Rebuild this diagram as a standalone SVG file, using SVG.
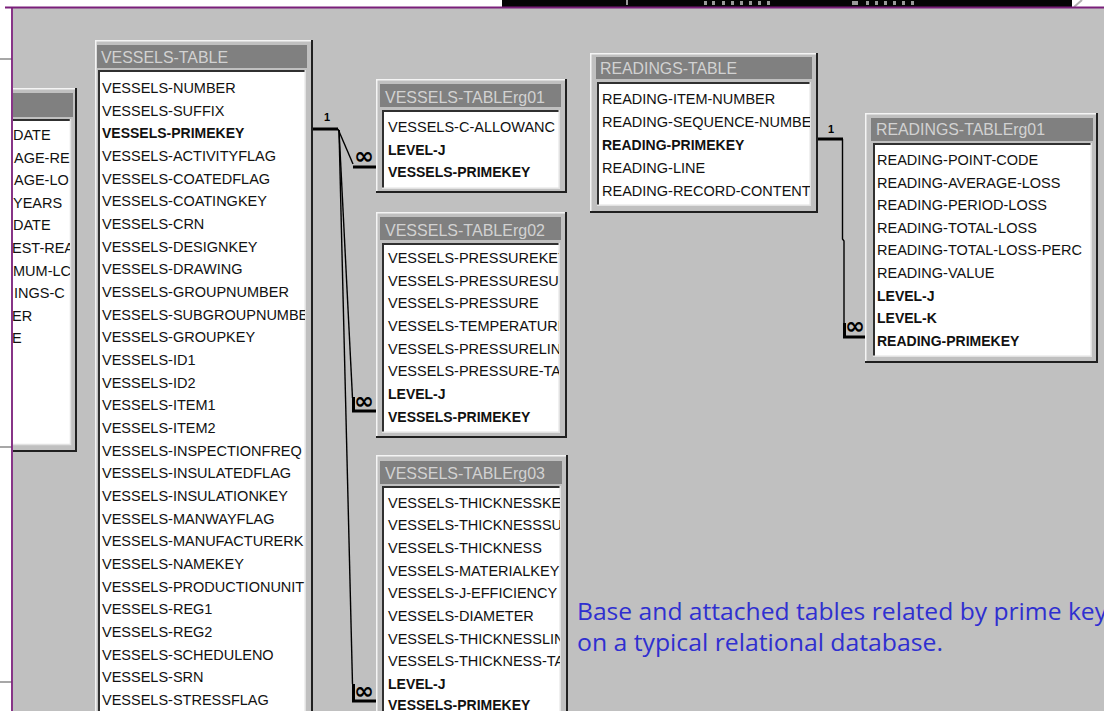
<svg xmlns="http://www.w3.org/2000/svg" width="1104" height="711" viewBox="0 0 1104 711">
<defs>
<style>
.t{font-family:"Liberation Sans",Arial,sans-serif;font-size:14.5px;fill:#111}
.b{font-weight:bold;font-size:14px}
.ttl{font-family:"Liberation Sans",Arial,sans-serif;font-size:16.5px;fill:#d2d2d2}
.frame{fill:#c0c0c0}
.hl{stroke:#f4f4f4;stroke-width:1.5;fill:none}
.sh{stroke:#202020;stroke-width:2;fill:none}
.bar{fill:#808080}
.list{fill:#ffffff}
.lsh{stroke:#303030;stroke-width:2;fill:none}
.lhl{stroke:#e2e2e2;stroke-width:1.5;fill:none}
.thick{stroke:#000;stroke-width:3;fill:none}
.thin{stroke:#000;stroke-width:1.4;fill:none}
.card{font-family:"Liberation Sans",Arial,sans-serif;font-weight:bold;font-size:11px;fill:#000}
.inf{font-family:"DejaVu Sans",sans-serif;font-weight:bold;font-size:24px;fill:#000}
.cap{font-family:"Open Sans","Liberation Sans",sans-serif;font-size:24px;fill:#2f2fd0}
</style>
<clipPath id="cV"><rect x="100" y="72" width="205" height="650"/></clipPath>
<clipPath id="c1"><rect x="384" y="112" width="175" height="76"/></clipPath>
<clipPath id="c2"><rect x="384" y="245" width="175" height="187"/></clipPath>
<clipPath id="c3"><rect x="384" y="488" width="176" height="240"/></clipPath>
<clipPath id="cR"><rect x="599" y="84" width="211" height="121"/></clipPath>
<clipPath id="cR1"><rect x="875" y="145" width="216" height="211"/></clipPath>
<clipPath id="cL"><rect x="13" y="121" width="57" height="323"/></clipPath>
</defs>

<!-- page background -->
<rect x="0" y="0" width="1104" height="711" fill="#ffffff"/>
<rect x="502" y="0" width="570" height="7" fill="#050505"/>
<g fill="#9a9a9a">
<rect x="626" y="0" width="2" height="5"/>
<rect x="704" y="1" width="3" height="4"/><rect x="712" y="1" width="3" height="4"/><rect x="722" y="1" width="3" height="4"/><rect x="731" y="1" width="3" height="4"/><rect x="740" y="1" width="3" height="4"/><rect x="749" y="1" width="3" height="4"/><rect x="758" y="1" width="3" height="4"/><rect x="767" y="1" width="3" height="4"/>
<rect x="852" y="1" width="6" height="4"/><rect x="866" y="1" width="3" height="4"/><rect x="875" y="1" width="3" height="4"/><rect x="884" y="1" width="3" height="4"/><rect x="893" y="1" width="3" height="4"/><rect x="902" y="1" width="3" height="4"/><rect x="911" y="1" width="3" height="4"/>
</g>
<path d="M1074,7 L1082,0" stroke="#b0b0b0" stroke-width="2"/>

<!-- canvas -->
<rect x="13" y="8" width="1091" height="703" fill="#c0c0c0"/>
<g stroke="#8a8a8a" stroke-width="1.5">
<path d="M0,59 H12"/><path d="M0,447 H12"/><path d="M0,682 H12"/>
</g>
<path d="M5,7.5 H1104" stroke="#7a1f7a" stroke-width="1.8"/>
<path d="M12,7 V711" stroke="#7a1f7a" stroke-width="1.8"/>

<!-- left partial table -->
<g id="left-table">
<rect class="frame" x="13" y="88" width="64" height="364"/>
<path class="hl" d="M77,88.75 H13"/>
<path class="sh" d="M13,451 H76 V88"/>
<rect class="bar" x="13" y="93" width="60" height="24"/>
<rect class="list" x="13" y="119" width="58" height="326"/>
<path class="lsh" d="M13,120 H71"/>
<path class="lhl" d="M13,444.5 H70.5 V119"/>
<g clip-path="url(#cL)" class="t">
<text x="13" y="140">DATE</text>
<text x="14" y="162.6">AGE-RE</text>
<text x="14" y="185.2">AGE-LO</text>
<text x="13" y="207.8">YEARS</text>
<text x="13" y="230.4">DATE</text>
<text x="12" y="253">EST-REA</text>
<text x="13" y="275.6">MUM-LC</text>
<text x="14" y="298.2">INGS-C</text>
<text x="12" y="320.8">ER</text>
<text x="12" y="343.4">E</text>
</g>
</g>

<!-- VESSELS-TABLE -->
<g id="vessels-table">
<rect class="frame" x="95" y="40" width="218" height="700"/>
<path class="hl" d="M313,40.75 H95.75 V740"/>
<path class="sh" d="M312,40 V740"/>
<rect class="bar" x="97" y="45" width="210" height="23"/>
<text class="ttl" x="101" y="63" textLength="127" lengthAdjust="spacingAndGlyphs">VESSELS-TABLE</text>
<rect class="list" x="98" y="70" width="208" height="670"/>
<path class="lsh" d="M99,740 V71 H306"/>
<path class="lhl" d="M305.25,70 V740"/>
<g clip-path="url(#cV)" class="t">
<text x="102" y="93">VESSELS-NUMBER</text>
<text x="102" y="115.7">VESSELS-SUFFIX</text>
<text x="102" y="138.3" class="b">VESSELS-PRIMEKEY</text>
<text x="102" y="161">VESSELS-ACTIVITYFLAG</text>
<text x="102" y="183.7">VESSELS-COATEDFLAG</text>
<text x="102" y="206.3">VESSELS-COATINGKEY</text>
<text x="102" y="229">VESSELS-CRN</text>
<text x="102" y="251.7">VESSELS-DESIGNKEY</text>
<text x="102" y="274.3">VESSELS-DRAWING</text>
<text x="102" y="297">VESSELS-GROUPNUMBER</text>
<text x="102" y="319.7">VESSELS-SUBGROUPNUMBE</text>
<text x="102" y="342.3">VESSELS-GROUPKEY</text>
<text x="102" y="365">VESSELS-ID1</text>
<text x="102" y="387.7">VESSELS-ID2</text>
<text x="102" y="410.3">VESSELS-ITEM1</text>
<text x="102" y="433">VESSELS-ITEM2</text>
<text x="102" y="455.7">VESSELS-INSPECTIONFREQ</text>
<text x="102" y="478.3">VESSELS-INSULATEDFLAG</text>
<text x="102" y="501">VESSELS-INSULATIONKEY</text>
<text x="102" y="523.7">VESSELS-MANWAYFLAG</text>
<text x="102" y="546.3">VESSELS-MANUFACTURERK</text>
<text x="102" y="569">VESSELS-NAMEKEY</text>
<text x="102" y="591.7">VESSELS-PRODUCTIONUNIT</text>
<text x="102" y="614.3">VESSELS-REG1</text>
<text x="102" y="637">VESSELS-REG2</text>
<text x="102" y="659.7">VESSELS-SCHEDULENO</text>
<text x="102" y="682.3">VESSELS-SRN</text>
<text x="102" y="705">VESSELS-STRESSFLAG</text>
</g>
</g>

<!-- VESSELS-TABLErg01 -->
<g id="vessels-rg01">
<rect class="frame" x="376" y="79" width="191" height="114"/>
<path class="hl" d="M567,79.75 H376.75 V193"/>
<path class="sh" d="M376,192 H566 V79"/>
<rect class="bar" x="380" y="84" width="181" height="23"/>
<text class="ttl" x="385" y="103" textLength="160" lengthAdjust="spacingAndGlyphs">VESSELS-TABLErg01</text>
<rect class="list" x="382" y="110" width="178" height="79"/>
<path class="lsh" d="M383,189 V111 H560"/>
<path class="lhl" d="M382,188.25 H559.25 V110"/>
<g clip-path="url(#c1)" class="t">
<text x="388" y="132">VESSELS-C-ALLOWANC</text>
<text x="388" y="154.7" class="b">LEVEL-J</text>
<text x="388" y="177.3" class="b">VESSELS-PRIMEKEY</text>
</g>
</g>

<!-- VESSELS-TABLErg02 -->
<g id="vessels-rg02">
<rect class="frame" x="376" y="212" width="191" height="226"/>
<path class="hl" d="M567,212.75 H376.75 V438"/>
<path class="sh" d="M376,437 H566 V212"/>
<rect class="bar" x="380" y="217" width="181" height="23"/>
<text class="ttl" x="385" y="236" textLength="160" lengthAdjust="spacingAndGlyphs">VESSELS-TABLErg02</text>
<rect class="list" x="382" y="243" width="178" height="190"/>
<path class="lsh" d="M383,433 V244 H560"/>
<path class="lhl" d="M382,432.25 H559.25 V243"/>
<g clip-path="url(#c2)" class="t">
<text x="388" y="263">VESSELS-PRESSUREKEY</text>
<text x="388" y="285.7">VESSELS-PRESSURESUF</text>
<text x="388" y="308.3">VESSELS-PRESSURE</text>
<text x="388" y="331">VESSELS-TEMPERATURE</text>
<text x="388" y="353.7">VESSELS-PRESSURELINI</text>
<text x="388" y="376.3">VESSELS-PRESSURE-TA</text>
<text x="388" y="399" class="b">LEVEL-J</text>
<text x="388" y="421.7" class="b">VESSELS-PRIMEKEY</text>
</g>
</g>

<!-- VESSELS-TABLErg03 -->
<g id="vessels-rg03">
<rect class="frame" x="376" y="455" width="192" height="285"/>
<path class="hl" d="M568,455.75 H376.75 V740"/>
<path class="sh" d="M567,455 V740"/>
<rect class="bar" x="380" y="461" width="182" height="23"/>
<text class="ttl" x="385" y="479" textLength="160" lengthAdjust="spacingAndGlyphs">VESSELS-TABLErg03</text>
<rect class="list" x="382" y="486" width="179" height="254"/>
<path class="lsh" d="M383,740 V487 H561"/>
<path class="lhl" d="M560.25,486 V740"/>
<g clip-path="url(#c3)" class="t">
<text x="388" y="507.5">VESSELS-THICKNESSKEY</text>
<text x="388" y="530.2">VESSELS-THICKNESSSUF</text>
<text x="388" y="552.8">VESSELS-THICKNESS</text>
<text x="388" y="575.5">VESSELS-MATERIALKEY</text>
<text x="388" y="598.2">VESSELS-J-EFFICIENCY</text>
<text x="388" y="620.8">VESSELS-DIAMETER</text>
<text x="388" y="643.5">VESSELS-THICKNESSLIN</text>
<text x="388" y="666.2">VESSELS-THICKNESS-TA</text>
<text x="388" y="688.8" class="b">LEVEL-J</text>
<text x="388" y="710" class="b">VESSELS-PRIMEKEY</text>
</g>
</g>

<!-- READINGS-TABLE -->
<g id="readings-table">
<rect class="frame" x="590" y="53" width="228" height="160"/>
<path class="hl" d="M818,53.75 H590.75 V213"/>
<path class="sh" d="M590,212 H817 V53"/>
<rect class="bar" x="596" y="57" width="216" height="22"/>
<text class="ttl" x="600" y="74" textLength="137" lengthAdjust="spacingAndGlyphs">READINGS-TABLE</text>
<rect class="list" x="597" y="82" width="214" height="124"/>
<path class="lsh" d="M598,206 V83 H811"/>
<path class="lhl" d="M597,205.25 H810.25 V82"/>
<g clip-path="url(#cR)" class="t">
<text x="602" y="104">READING-ITEM-NUMBER</text>
<text x="602" y="126.9">READING-SEQUENCE-NUMBE</text>
<text x="602" y="149.8" class="b">READING-PRIMEKEY</text>
<text x="602" y="172.7">READING-LINE</text>
<text x="602" y="195.6">READING-RECORD-CONTENT</text>
</g>
</g>

<!-- READINGS-TABLErg01 -->
<g id="readings-rg01">
<rect class="frame" x="865" y="113" width="233" height="250"/>
<path class="hl" d="M1098,113.75 H865.75 V363"/>
<path class="sh" d="M865,362 H1097 V113"/>
<rect class="bar" x="871" y="118" width="222" height="23"/>
<text class="ttl" x="876" y="135" textLength="169" lengthAdjust="spacingAndGlyphs">READINGS-TABLErg01</text>
<rect class="list" x="873" y="143" width="219" height="214"/>
<path class="lsh" d="M874,357 V144 H1092"/>
<path class="lhl" d="M873,356.25 H1091.25 V143"/>
<g clip-path="url(#cR1)" class="t">
<text x="877" y="165">READING-POINT-CODE</text>
<text x="877" y="187.6">READING-AVERAGE-LOSS</text>
<text x="877" y="210.2">READING-PERIOD-LOSS</text>
<text x="877" y="232.8">READING-TOTAL-LOSS</text>
<text x="877" y="255.4">READING-TOTAL-LOSS-PERC</text>
<text x="877" y="278">READING-VALUE</text>
<text x="877" y="300.6" class="b">LEVEL-J</text>
<text x="877" y="323.2" class="b">LEVEL-K</text>
<text x="877" y="345.8" class="b">READING-PRIMEKEY</text>
</g>
</g>

<!-- connectors -->
<g id="connectors">
<path class="thick" d="M313,129 H338"/>
<path class="thin" d="M338,129 L353,164"/>
<path class="thick" d="M353,167 H376"/>
<path class="thin" d="M339,130 L352.5,398"/>
<path class="thick" d="M353.5,397 V411 H376"/>
<path class="thin" d="M339,130 L352.5,684"/>
<path class="thick" d="M353.5,684 V701 H376"/>
<text class="card" x="324" y="121">1</text>
<text class="inf" x="354" y="164">∞</text>
<text class="inf" x="354" y="409">∞</text>
<text class="inf" x="354" y="699">∞</text>
<path class="thick" d="M818,139 H843"/>
<path class="thin" d="M842.5,139 V239 L844,241 V325"/>
<path class="thick" d="M844.5,323 V337 H865"/>
<text class="card" x="828" y="133">1</text>
<text class="inf" x="845" y="334">∞</text>
</g>

<!-- caption -->
<g id="caption">
<text class="cap" x="577" y="620" textLength="530" lengthAdjust="spacingAndGlyphs">Base and attached tables related by prime key</text>
<text class="cap" x="577" y="651" textLength="366" lengthAdjust="spacingAndGlyphs">on a typical relational database.</text>
</g>
</svg>
